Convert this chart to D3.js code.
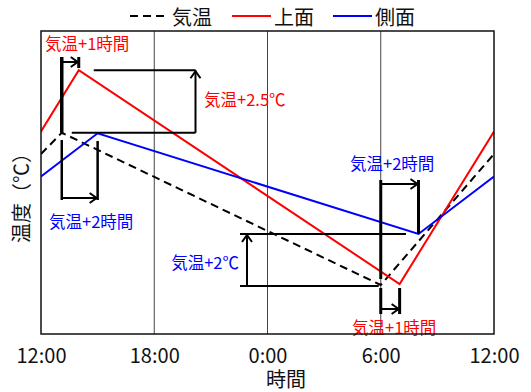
<!DOCTYPE html>
<html><head><meta charset="utf-8">
<script src="https://cdn.jsdelivr.net/npm/d3@7/dist/d3.min.js"></script>
<style>
html,body{margin:0;padding:0;background:#fff;}
svg text{font-family:"Noto Sans CJK JP","Noto Sans",sans-serif;}
</style></head>
<body><svg id="c" width="531" height="392"></svg>
<script>
// ---- data (hours from 0:00 of day 1; temperatures in °C, schematic) ----
const seriesNames = ["気温", "上面", "側面"];
const airHours   = [12, 13.1, 30, 36];
const airTemps   = [15.2, 16.05, 9.96, 15.2];
const topHours   = [12, 14, 31, 36];
const topTemps   = [16.1, 18.55, 10.0, 16.1];
const sideHours  = [12, 15, 32, 36];
const sideTemps  = [14.3, 16.03, 12.0, 14.3];
const tickHours  = [12, 18, 24, 30, 36];
const tickLabels = ["12:00", "18:00", "0:00", "6:00", "12:00"];
const xTitle = "時間";
const yTitle = "温度（℃）";
const labelTop1h  = "気温+1時間";
const labelTop25  = "気温+2.5℃";
const labelSide2h = "気温+2時間";
const labelSide2c = "気温+2℃";

const svg = d3.select("#c");
const L = 41, R = 494, T = 31, B = 334;
const x = d3.scaleLinear().domain([12, 36]).range([L, R]);
const y = d3.scaleLinear().domain([8, 20.12]).range([B, T]);

const RED = "#ff0000", BLUE = "#0000ff", BLK = "#000";

// grid lines
svg.append("g").selectAll("line").data(tickHours.slice(1, -1)).join("line")
  .attr("x1", d => x(d)).attr("x2", d => x(d)).attr("y1", T).attr("y2", B)
  .attr("stroke", "#444").attr("stroke-width", 1);

// axis
const ax = svg.append("g").attr("transform", `translate(0,${B})`)
  .call(d3.axisBottom(x).tickValues(tickHours).tickSize(0).tickPadding(15)
    .tickFormat((d, i) => tickLabels[i]));
ax.select(".domain").remove();
ax.selectAll("text").attr("font-size", 20).attr("fill", "#111")
  .style("font-family", '"Noto Sans CJK JP",sans-serif');

svg.append("text").attr("x", 286).attr("y", 387).attr("text-anchor", "middle")
  .attr("font-size", 20).attr("fill", "#111").text(xTitle);
svg.append("text").attr("transform", "translate(29,193) rotate(-90)")
  .attr("text-anchor", "middle").attr("font-size", 20).attr("fill", "#111").text(yTitle);

// data lines
const line = d3.line().x(d => x(d[0])).y(d => y(d[1]));
svg.append("clipPath").attr("id", "pc").append("rect")
  .attr("x", L).attr("y", T).attr("width", R - L).attr("height", B - T);
const plot = svg.append("g").attr("clip-path", "url(#pc)");
plot.append("path").datum(d3.zip(airHours, airTemps)).attr("d", line)
  .attr("fill", "none").attr("stroke", BLK).attr("stroke-width", 2).attr("stroke-dasharray", "8,5");
plot.append("path").datum(d3.zip(topHours, topTemps)).attr("d", line)
  .attr("fill", "none").attr("stroke", RED).attr("stroke-width", 2);
plot.append("path").datum(d3.zip(sideHours, sideTemps)).attr("d", line)
  .attr("fill", "none").attr("stroke", BLUE).attr("stroke-width", 2);

// annotation helpers
const ann = svg.append("g");
function seg(x1, y1, x2, y2, w) {
  ann.append("line").attr("x1", x1).attr("y1", y1).attr("x2", x2).attr("y2", y2)
    .attr("stroke", BLK).attr("stroke-width", w);
}
function arrowH(x1, x2, yy) { // arrow pointing right at x2
  seg(x1, yy, x2, yy, 2);
  ann.append("path").attr("d", `M${x2 - 8},${yy - 5}L${x2 - 1},${yy}L${x2 - 8},${yy + 5}`)
    .attr("fill", "none").attr("stroke", BLK).attr("stroke-width", 2);
}
function arrowUp(xx, y1, y2) { // from y1 (bottom) up to y2
  seg(xx, y1, xx, y2, 2);
  ann.append("path").attr("d", `M${xx - 5},${y2 + 8}L${xx},${y2 + 1}L${xx + 5},${y2 + 8}`)
    .attr("fill", "none").attr("stroke", BLK).attr("stroke-width", 2);
}
function label(t, xx, yy, col, anchor) {
  ann.append("text").attr("x", xx).attr("y", yy).attr("fill", col).attr("font-size", 16.5)
    .attr("text-anchor", anchor || "start").attr("dominant-baseline", "central").text(t);
}

const xa = x(airHours[1]), xr = x(topHours[1]), xs = x(sideHours[1]);
const yAirPk = y(airTemps[1]), yTopPk = y(topTemps[1]);
// top-left: +1h
seg(xa, 57, xa, yAirPk, 3.5);
seg(xr, 57, xr, 68, 3);
arrowH(xa, xr, 62);
label(labelTop1h, 45, 43, RED);
// +2.5°C
seg(xr + 15, yTopPk, 195.5, yTopPk, 2);
seg(xa + 10, yAirPk, 195.5, yAirPk, 2);
arrowUp(195.5, yAirPk, yTopPk);
label(labelTop25, 204, 99, RED);
// lower-left: +2h
seg(xa, 140, xa, 200, 2.5);
seg(xs, 141, xs, 200, 2.5);
arrowH(xa, xs, 198);
label(labelSide2h, 49, 221, BLUE);

// right side
const xa2 = x(airHours[2]), xr2 = x(topHours[2]), xs2 = x(sideHours[2]);
const yAirMin = y(airTemps[2]), ySideMin = y(sideTemps[2]);
seg(xa2, 180, xa2, 279, 3);
seg(xs2, 180, xs2, ySideMin, 3);
arrowH(xa2, xs2, 184);
label(labelSide2h, 350, 163, BLUE);
// +2°C
seg(240, ySideMin, 406, ySideMin, 2);
seg(240, yAirMin + 1, xa2 - 2, yAirMin + 1, 2);
arrowUp(247, yAirMin + 1, ySideMin);
label(labelSide2c, 239, 262, BLUE, "end");
// bottom +1h
seg(xa2, 288, xa2, 314, 3);
seg(xr2, 288, xr2, 314, 3);
arrowH(xa2, xr2, 309);
label(labelTop1h, 352, 327, RED);

// frame
svg.append("rect").attr("x", L).attr("y", T).attr("width", R - L).attr("height", B - T)
  .attr("fill", "none").attr("stroke", "#111").attr("stroke-width", 1.5);

// legend
const lg = svg.append("g");
const legItems = [
  {name: seriesNames[0], col: BLK, dash: "8,5", x0: 130},
  {name: seriesNames[1], col: RED, dash: null, x0: 232},
  {name: seriesNames[2], col: BLUE, dash: null, x0: 333}
];
legItems.forEach(d => {
  lg.append("line").attr("x1", d.x0).attr("x2", d.x0 + 39).attr("y1", 16).attr("y2", 16)
    .attr("stroke", d.col).attr("stroke-width", 2).attr("stroke-dasharray", d.dash);
  lg.append("text").attr("x", d.x0 + 42).attr("y", 16).attr("dominant-baseline", "central")
    .attr("font-size", 20).attr("fill", "#111").text(d.name);
});
</script></body></html>
